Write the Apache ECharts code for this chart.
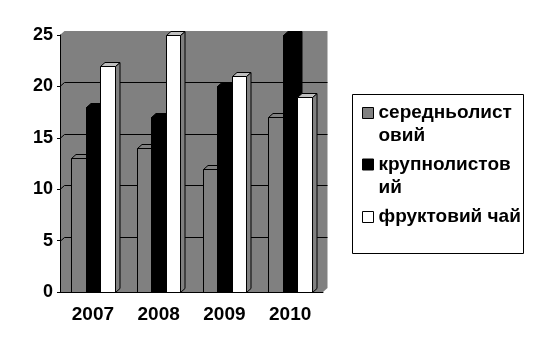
<!DOCTYPE html>
<html>
<head>
<meta charset="utf-8">
<script src="https://cdn.jsdelivr.net/npm/echarts@6/dist/echarts.min.js"></script>
<style>
  html, body { margin: 0; padding: 0; background: #fff; }
  #chart { width: 541px; height: 349px; }
</style>
</head>
<body>
<div id="chart"></div>
<script>
// Tea sales by year, three kinds of tea
const categories = ['2007', '2008', '2009', '2010'];
const seriesNames = ['середньолистовий', 'крупнолистовий', 'фруктовий чай'];
const legendLines = [['середньолист', 'овий'], ['крупнолистов', 'ий'], ['фруктовий чай']];
const mediumLeaf = [13, 14, 12, 17];
const largeLeaf = [18, 17, 20, 25];
const fruitTea = [22, 25, 21, 19];
const yTicks = [0, 5, 10, 15, 20, 25];

const seriesValues = [mediumLeaf, largeLeaf, fruitTea];
const faceColors = [
  { front: '#808080', top: '#808080', side: '#808080' },
  { front: '#000000', top: '#000000', side: '#000000' },
  { front: '#ffffff', top: '#c0c0c0', side: '#808080' }
];

// depth offset of the pseudo-3D projection
const DX = 4.5, DY = -4;
const FONT = 'Liberation Sans, Arial, sans-serif';

const chart = echarts.init(document.getElementById('chart'));

function crisp(v) { return Math.round(v) + 0.5; }

// back wall, left wall, floor and wall gridlines
function renderWalls(params, api) {
  const cs = params.coordSys;
  const x = cs.x, y = cs.y, w = cs.width, h = cs.height;
  const children = [{
    type: 'polygon',
    shape: { points: [[x, y + h], [x, y], [x + DX, y + DY], [x + w + DX, y + DY],
                      [x + w + DX, y + h + DY], [x + w, y + h]] },
    style: { fill: '#808080', stroke: null }
  }];
  yTicks.forEach(function (v) {
    if (v === yTicks[0] || v === yTicks[yTicks.length - 1]) return;
    const yy = crisp(api.coord([0, v])[1]);
    children.push({
      type: 'polyline',
      shape: { points: [[x, yy], [x + DX, yy + DY], [x + w + DX, yy + DY]] },
      style: { stroke: '#000', lineWidth: 1, fill: null }
    });
  });
  return { type: 'group', children: children };
}

function makeBarRenderer(s) {
  return function (params, api) {
    const cat = api.value(0);
    const v = api.value(1);
    const base = api.coord([cat, 0]);
    const topP = api.coord([cat, v]);
    const bw = api.size([1, 0])[0] * 0.22;
    const x0 = crisp(base[0] - 1.5 * bw + s * bw);
    const x1 = crisp(base[0] - 1.5 * bw + (s + 1) * bw);
    const y0 = crisp(base[1]);
    const y1 = crisp(topP[1]);
    const c = faceColors[s];
    const stroke = { stroke: '#000', lineWidth: 1 };
    return {
      type: 'group',
      children: [
        { type: 'polygon',
          shape: { points: [[x1, y1], [x1 + DX, y1 + DY], [x1 + DX, y0 + DY], [x1, y0]] },
          style: Object.assign({ fill: c.side }, stroke) },
        { type: 'polygon',
          shape: { points: [[x0, y1], [x0 + DX, y1 + DY], [x1 + DX, y1 + DY], [x1, y1]] },
          style: Object.assign({ fill: c.top }, stroke) },
        { type: 'rect',
          shape: { x: x0, y: y1, width: x1 - x0, height: y0 - y1 },
          style: Object.assign({ fill: c.front }, stroke) }
      ]
    };
  };
}

// one legend per entry so the swatch sits beside the first line of wrapped names
const legendCenters = [113, 164.5, 217];
const LINE_H = 23;
const legends = seriesNames.map(function (name, i) {
  const lines = legendLines[i];
  const extra = (lines.length - 1) * LINE_H;
  // an empty leading line keeps the first text line level with the swatch
  const text = lines.length > 1 ? '\n' + lines.join('\n') : lines[0];
  return {
    orient: 'vertical',
    left: 362,
    top: legendCenters[i] - LINE_H / 2 - extra,
    padding: 0,
    itemWidth: 11,
    itemHeight: 11,
    icon: 'rect',
    selectedMode: false,
    data: [name],
    itemStyle: { borderColor: '#000', borderWidth: 1 },
    formatter: function () { return text; },
    textStyle: {
      fontFamily: FONT, fontSize: 19, fontWeight: 'bold', color: '#000',
      lineHeight: LINE_H
    }
  };
});

const series = [{
  type: 'custom',
  name: '__walls',
  renderItem: renderWalls,
  data: [[0, 0]],
  silent: true,
  clip: false,
  z: 1
}];
seriesValues.forEach(function (vals, s) {
  series.push({
    type: 'custom',
    name: seriesNames[s],
    renderItem: makeBarRenderer(s),
    itemStyle: { color: faceColors[s].front, borderColor: '#000', borderWidth: 1 },
    data: vals.map(function (v, i) { return [i, v]; }),
    encode: { x: 0, y: 1 },
    clip: false,
    z: 2 + s
  });
});

chart.setOption({
  animation: false,
  backgroundColor: '#fff',
  grid: { left: 60, top: 35, width: 263, height: 257 },
  xAxis: {
    type: 'category',
    data: categories,
    axisLine: { lineStyle: { color: '#000', width: 1 } },
    axisTick: { length: 4, lineStyle: { color: '#000' } },
    axisLabel: { color: '#000', fontFamily: FONT, fontSize: 19, fontWeight: 'bold', margin: 13 },
    splitLine: { show: false },
    z: 10
  },
  yAxis: {
    type: 'value',
    min: 0, max: 25, interval: 5,
    axisLine: { show: true, lineStyle: { color: '#000', width: 1 } },
    axisTick: { show: true, length: 3, lineStyle: { color: '#000' } },
    axisLabel: { color: '#000', fontFamily: FONT, fontSize: 18, fontWeight: 'bold', margin: 7 },
    splitLine: { show: false },
    z: 10
  },
  legend: legends,
  graphic: [{
    type: 'rect',
    shape: { x: 352.5, y: 94.5, width: 171, height: 159 },
    style: { fill: 'none', stroke: '#000', lineWidth: 1 },
    silent: true
  }],
  series: series
});
</script>
</body>
</html>
